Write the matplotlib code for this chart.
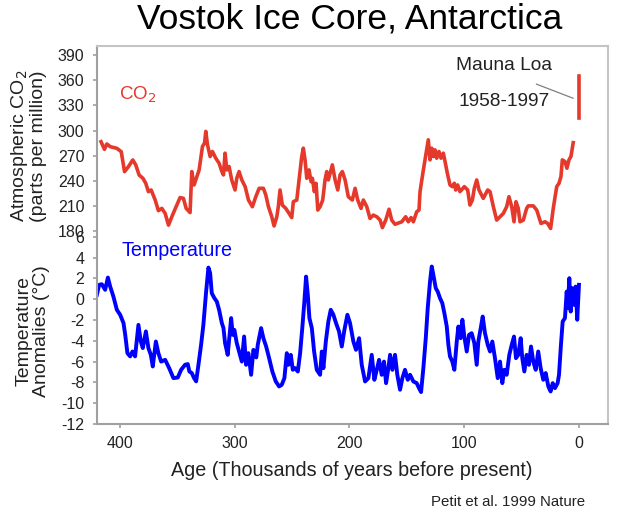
import matplotlib
matplotlib.use("Agg")
import matplotlib.pyplot as plt

plt.rcParams['font.family'] = ['Liberation Sans', 'DejaVu Sans']
plt.rcParams['axes.unicode_minus'] = False

# ---- data (age in kyr BP) ----
co2_age = [416.5, 413.5, 411.4, 408.5, 402.7, 398.9, 396.0, 392.6, 388.8, 386.2, 383.3, 380.0,
           377.5, 375.2, 372.8, 369.3, 366.5, 363.5, 360.6, 357.7, 354.2, 350.4, 347.6, 344.7,
           342.3, 338.9, 337.4, 335.4, 333.9, 331.0, 328.1, 326.3, 325.2, 323.7, 321.4, 319.4,
           316.5, 313.6, 311.2, 309.8, 308.4, 306.9, 304.9, 302.6, 299.7, 298.2, 296.2, 293.8,
           290.9, 288.0, 284.6, 281.6, 278.7, 275.0, 272.9, 270.6, 267.7, 265.7, 263.3, 262.0,
           260.5, 258.5, 255.5, 252.6, 250.3, 248.9, 245.9, 243.9, 241.6, 240.2, 238.7, 237.2,
           235.2, 233.5, 232.3, 230.6, 229.1, 227.6, 225.6, 223.3, 221.3, 219.8, 218.4, 214.9,
           212.5, 210.2, 208.2, 206.2, 203.8, 201.0, 197.5, 195.1, 192.8, 189.9, 187.9, 184.9,
           182.1, 179.2, 176.2, 173.3, 171.3, 168.4, 165.5, 163.2, 160.3, 154.4, 151.0, 148.7,
           146.3, 144.3, 141.4, 139.4, 138.5, 135.6, 132.7, 131.3, 129.8, 128.3, 126.9, 125.4,
           124.0, 122.0, 120.2, 118.2, 116.7, 114.7, 112.4, 110.4, 108.6, 107.4, 105.7, 103.7,
           99.9, 97.0, 95.0, 92.9, 91.2, 89.1, 87.1, 83.4, 79.5, 77.5, 74.6, 71.7, 65.9, 63.0,
           61.0, 58.6, 56.6, 54.9, 52.9, 51.4, 48.5, 45.6, 44.2, 39.8, 36.8, 33.1, 29.6, 27.3,
           24.7, 22.4, 19.4, 17.4, 15.7, 14.5, 12.2, 10.5, 8.7, 7.0, 5.8, 5.0]
co2_ppm = [286.7, 277.6, 284, 280.8, 278.8, 274.8, 250.9, 256.9, 264.9, 258.9, 246.9, 243,
           237, 227, 229, 217, 204.3, 207, 201, 187, 199, 211, 220, 219,
           207, 202, 251, 235, 241, 253, 281, 285, 299, 283, 269, 275,
           267, 261, 251, 247, 273, 253, 257, 241, 229, 243, 251, 241,
           233, 217, 209, 221, 231, 231, 223, 209, 197, 186, 197, 209,
           229, 211, 207, 201, 196, 215, 217, 241, 269, 279, 265, 243,
           253, 239, 243, 227, 237, 205, 209, 217, 241, 251, 241, 259,
           241, 229, 247, 251, 241, 221, 217, 231, 217, 207, 217, 209,
           195, 199, 197, 193, 184, 193, 206, 193, 188, 191, 197, 191,
           196, 191, 203, 205, 227, 253, 277, 289, 265, 279, 269, 277,
           267, 275, 267, 273, 263, 249, 235, 233, 237, 229, 235, 227,
           233, 229, 211, 217, 231, 241, 229, 219, 229, 227, 209, 193, 201, 209,
           221, 209, 191, 215, 207, 191, 193, 207, 210, 210, 205, 189, 191, 189,
           183, 207, 233, 237, 245, 265, 263, 255, 265, 269, 279, 285.6]

temp_age = [420.1, 418.1, 415.8, 412.9, 410.5, 408.5, 405.7, 402.7, 399.8, 396.9, 395.4, 393.5,
            391.1, 389.1, 386.8, 385.3, 383.9, 381.8, 380.1, 377.4, 375.2, 373.1, 371.4, 368.7,
            366.5, 364.1, 360.6, 357.1, 353.4, 349.6, 346.7, 343.2, 340.9, 339.5, 337.4, 335.4,
            333.6, 331.6, 329.3, 327.3, 324.9, 322.9, 321.4, 320.0, 317.7, 315.6, 313.6, 311.2,
            309.8, 308.4, 306.1, 303.1, 301.7, 300.3, 298.2, 296.2, 293.8, 291.8, 290.1, 288.1,
            285.7, 283.7, 281.2, 279.9, 277.0, 275.0, 272.6, 270.0, 267.2, 264.2, 261.3, 259.0,
            256.7, 254.6, 253.2, 251.1, 249.4, 247.4, 245.0, 243.0, 241.0, 239.3, 237.8, 236.3,
            234.9, 232.8, 230.8, 228.5, 225.6, 224.1, 222.7, 220.6, 218.4, 216.3, 214.0, 211.7,
            209.1, 206.7, 204.4, 201.8, 199.5, 196.6, 194.3, 191.6, 189.3, 186.4, 183.5, 180.6,
            178.3, 176.2, 174.2, 171.9, 169.9, 168.1, 166.1, 164.6, 162.6, 160.3, 158.3, 155.9,
            153.9, 151.6, 149.2, 147.2, 144.3, 141.4, 139.4, 137.6, 136.2, 135.6, 133.5, 131.8,
            129.8, 128.3, 126.9, 124.8, 123.1, 121.1, 119.1, 117.3, 115.2, 113.8, 112.4, 110.4,
            108.6, 106.5, 105.1, 103.1, 101.6, 99.9, 97.8, 95.8, 93.5, 91.2, 89.1, 87.7,
            85.6, 83.9, 81.9, 79.5, 77.5, 75.5, 73.2, 70.8, 68.8, 66.8, 65.1, 63.0,
            60.7, 58.6, 56.6, 54.9, 52.9, 50.8, 49.4, 47.6, 45.6, 43.6, 41.8, 39.8,
            37.7, 35.5, 33.4, 31.1, 29.0, 26.7, 24.7, 22.9, 20.9, 18.6, 17.4, 15.7,
            14.2, 12.2, 10.7, 9.8, 8.4, 7.2, 5.8, 4.4, 2.9, 1.5, 0.0]
temp_anom = [0.42, 1.38, 1.44, 0.9, 2.08, 1.21, 0.25, -1.02, -1.5, -2.3, -3.43, -5.19,
             -5.5, -5.03, -5.5, -3.9, -2.47, -4.07, -4.7, -3.1, -4.7, -5.35, -6.47, -4.07,
             -5.19, -6.0, -5.83, -6.63, -7.59, -7.53, -6.79, -6.3, -6.24, -6.95, -7.1, -7.59,
             -7.9, -6.31, -4.39, -2.47, 0.73, 3.04, 2.5, 0.58, 0.1, -0.23, -1.02, -2.3,
             -2.78, -4.22, -5.35, -1.82, -3.43, -2.95, -4.22, -5.03, -6.0, -3.59, -6.31, -5.19,
             -7.27, -4.87, -5.6, -4.39, -2.78, -3.75, -4.55, -5.67, -6.95, -7.91, -8.39, -8.23,
             -7.59, -5.19, -6.31, -5.35, -6.79, -6.63, -6.95, -5.19, -2.63, -0.23, 2.17, 0.42,
             -1.82, -2.78, -5.03, -6.79, -7.27, -5.03, -6.63, -4.07, -2.15, -1.02, -1.5, -2.3,
             -3.1, -4.55, -2.95, -1.5, -2.3, -4.07, -4.87, -3.75, -6.31, -7.91, -7.59, -5.35,
             -7.75, -6.79, -5.83, -7.27, -6.0, -8.07, -6.63, -5.35, -6.79, -5.35, -7.27, -8.71,
             -7.59, -6.79, -7.75, -7.27, -7.91, -8.07, -8.55, -8.93, -7.27, -6.63, -3.75, -0.86,
             1.69, 3.14, 2.34, 1.06, 0.73, 0.1, -0.38, -1.34, -2.63, -4.39, -5.51, -5.99,
             -6.79, -4.07, -2.63, -3.75, -1.98, -3.59, -5.03, -3.43, -3.27, -4.22, -6.31, -4.07,
             -2.78, -1.67, -3.27, -4.39, -5.03, -4.07, -5.67, -7.59, -6.0, -8.07, -6.79, -7.27,
             -5.35, -4.39, -3.59, -5.67, -5.35, -3.75, -5.67, -6.95, -5.35, -6.31, -4.55, -6.0,
             -6.79, -5.03, -6.63, -7.75, -7.1, -8.39, -8.87, -8.07, -8.55, -8.07, -7.27, -4.39,
             -2.15, -1.82, 0.73, -0.86, 2.02, -1.19, 1.06, -0.54, 1.21, -1.98, 1.38]

mauna_loa_age = [0.0, 0.0]
mauna_loa_ppm = [315, 365]

co2_ticks = [180, 210, 240, 270, 300, 330, 360, 390]
temp_ticks = [-12, -10, -8, -6, -4, -2, 0, 2, 4, 6]
age_ticks = [400, 300, 200, 100, 0]

RED = '#e5392c'
BLUE = '#0000ff'
GRAY = '#a0a0a0'
TXT = '#222222'

fig = plt.figure(figsize=(6.18, 5.13), dpi=100)
W, H = 618, 513
L, R, T, B = 97, 608, 46, 424
ax = fig.add_axes([L / W, 1 - B / H, (R - L) / W, (B - T) / H])

ax.plot(temp_age, temp_anom, color=BLUE, lw=2.8, solid_joinstyle='round')
ax.set_xlim(420, -25.3)
ax.set_ylim(-12, 24.34)
ax.set_yticks(temp_ticks)
ax.set_xticks(age_ticks)
ax.tick_params(axis='both', colors=GRAY, labelcolor=TXT, labelsize=11.5, length=3, width=1.2)
ax.tick_params(axis='y', pad=6)
ax.tick_params(axis='x', pad=6)
for s in ['left', 'bottom']:
    ax.spines[s].set_color(GRAY)
    ax.spines[s].set_linewidth(1.5)
for s in ['top', 'right']:
    ax.spines[s].set_color('#c4c4c4')
    ax.spines[s].set_linewidth(1.5)

ax2 = ax.twinx()
ax2.plot(co2_age, co2_ppm, color=RED, lw=2.6, solid_joinstyle='round')
ax2.plot(mauna_loa_age, mauna_loa_ppm, color=RED, lw=2.6)
ax2.set_ylim(-50.7, 401.1)
ax2.set_yticks(co2_ticks)
ax2.yaxis.tick_left()
ax2.tick_params(axis='y', colors=GRAY, labelcolor=TXT, labelsize=11.5, length=3, width=1.2, pad=6)
for s in ax2.spines.values():
    s.set_visible(False)
ax2.set_xlim(420, -25.3)

# leader line for Mauna Loa
ax2.plot([37, 5.2], [355.5, 338.7], color='#808080', lw=0.9)

# texts (pixel-positioned)
def ftext(x, y, s, **kw):
    fig.text(x / W, 1 - y / H, s, **kw)

ftext(350, 19, 'Vostok Ice Core, Antarctica', fontsize=25.5, ha='center', va='center', color='black')
ftext(352, 471, 'Age (Thousands of years before present)', fontsize=14.2, ha='center', va='center', color=TXT)
ftext(508, 502, 'Petit et al. 1999 Nature', fontsize=10.8, ha='center', va='center', color=TXT)
ftext(28, 146, 'Atmospheric CO$_2$\n(parts per million)', fontsize=14, ha='center', va='center',
      rotation=90, color=TXT, linespacing=1.0)
ftext(33, 331, 'Temperature\nAnomalies (°C)', fontsize=14, ha='center', va='center',
      rotation=90, color=TXT, linespacing=1.05)
ftext(138, 95, 'CO$_2$', fontsize=13.5, ha='center', va='center', color=RED)
ftext(177, 250, 'Temperature', fontsize=14.2, ha='center', va='center', color=BLUE)
ftext(504, 66, 'Mauna Loa', fontsize=13.8, ha='center', va='center', color=TXT)
ftext(504, 101, '1958-1997', fontsize=13.8, ha='center', va='center', color=TXT)

fig.savefig('out.png', dpi=100)
